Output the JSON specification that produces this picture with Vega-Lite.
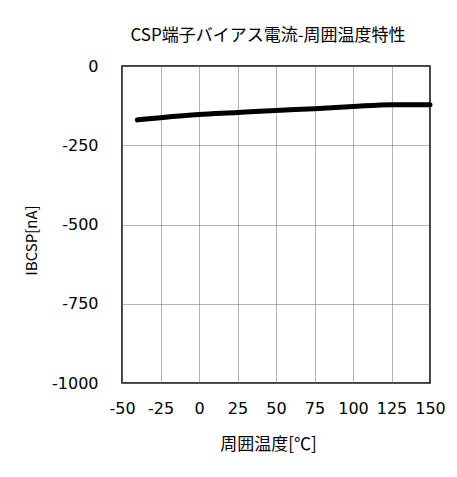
{
  "$schema": "https://vega.github.io/schema/vega-lite/v6.json",
  "autosize": "none",
  "width": 308,
  "height": 317,
  "padding": {"left": 122, "top": 66, "right": 27, "bottom": 94},
  "background": "white",
  "title": {
    "text": "CSP端子バイアス電流-周囲温度特性",
    "font": "Noto Sans CJK JP",
    "fontSize": 17,
    "fontWeight": "normal",
    "color": "#000",
    "offset": 13,
    "anchor": "middle",
    "dx": -8
  },
  "data": {
    "values": [
      {"temp": -40, "ib": -170},
      {"temp": -25, "ib": -163},
      {"temp": 0, "ib": -153},
      {"temp": 25, "ib": -147},
      {"temp": 50, "ib": -140},
      {"temp": 75, "ib": -135},
      {"temp": 100, "ib": -128},
      {"temp": 125, "ib": -122},
      {"temp": 150, "ib": -122}
    ]
  },
  "mark": {"type": "line", "color": "#000", "strokeWidth": 5, "strokeCap": "round", "interpolate": "monotone"},
  "encoding": {
    "x": {
      "field": "temp",
      "type": "quantitative",
      "scale": {"domain": [-50, 150], "nice": false, "zero": false},
      "axis": {
        "title": "周囲温度[℃]",
        "values": [-50, -25, 0, 25, 50, 75, 100, 125, 150],
        "labelExpr": "datum.value + ''",
        "labelFont": "DejaVu Sans",
        "labelFontSize": 16,
        "labelColor": "#000",
        "labelPadding": 17,
        "labelFlush": false,
        "labelOverlap": false,
        "ticks": false,
        "domain": false,
        "grid": true,
        "gridColor": "#666",
        "gridDash": [1, 1],
        "gridWidth": 1,
        "titleFont": "Noto Sans CJK JP",
        "titleFontSize": 17,
        "titleFontWeight": "normal",
        "titleColor": "#000",
        "titlePadding": 20,
        "titleX": 146
      }
    },
    "y": {
      "field": "ib",
      "type": "quantitative",
      "scale": {"domain": [-1000, 0], "nice": false},
      "axis": {
        "title": "IBCSP[nA]",
        "values": [-1000, -750, -500, -250, 0],
        "labelExpr": "datum.value + ''",
        "labelFont": "DejaVu Sans",
        "labelFontSize": 16,
        "labelColor": "#000",
        "labelPadding": 24,
        "labelFlush": false,
        "labelOverlap": false,
        "ticks": false,
        "domain": false,
        "grid": true,
        "gridColor": "#666",
        "gridDash": [1, 1],
        "gridWidth": 1,
        "titleFont": "Noto Sans CJK JP",
        "titleFontSize": 15,
        "titleFontWeight": "normal",
        "titleColor": "#000",
        "titlePadding": 12,
        "titleY": 174
      }
    }
  },
  "config": {
    "view": {"stroke": "#000", "strokeWidth": 1.5}
  }
}
